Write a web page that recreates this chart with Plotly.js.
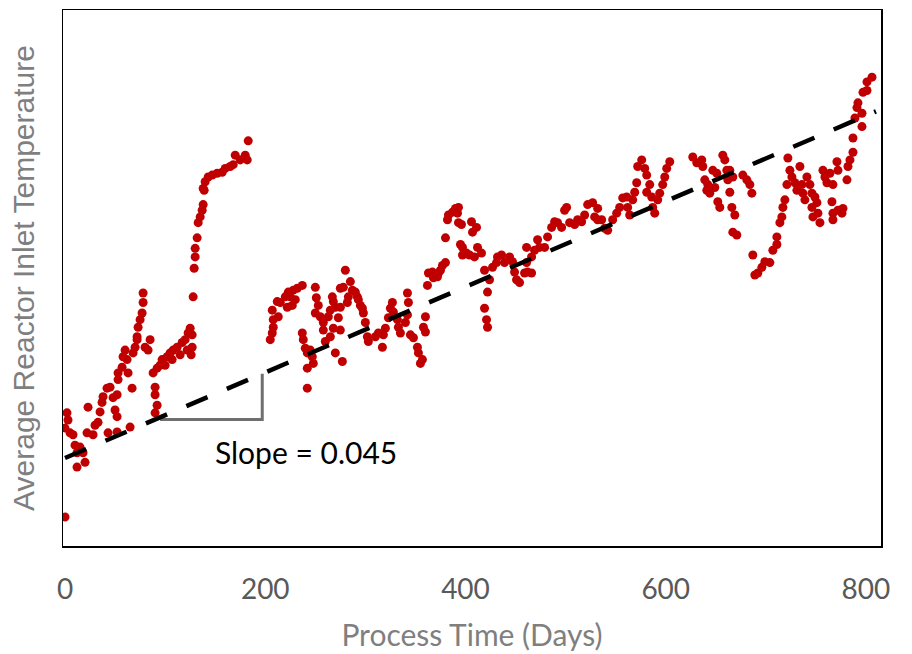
<!DOCTYPE html>
<html>
<head>
<meta charset="utf-8">
<script src="https://cdn.plot.ly/plotly-3.0.1.min.js"></script>
<style>html,body{margin:0;padding:0;background:#fff;}#chart{width:912px;height:654px;}</style>
</head>
<body>
<div id="chart"></div>
<script>
// Process time (days)
const days = [
0,2,3,0,5,8,10,15,12,18,12,20,22,23,28,30,33,35,37,38,42,45,48,50,52,52,53,53,57,58,60,62,63,67,68,70,72,73,75,77,78,78,80,83,85,72,43,65,52,
88,90,90,92,90,92,95,97,100,102,105,107,108,112,115,117,120,123,125,122,127,127,126,128,129,130,130,132,133,135,137,138,139,138,140,143,147,152,157,160,165,168,170,175,180,182,183,
205,207,208,208,207,213,215,220,223,225,228,232,237,230,227,222,212,237,238,240,242,245,247,248,242,242,250,251,253,250,255,258,258,260,265,
280,275,278,285,287,290,292,293,295,297,298,267,268,270,265,263,273,275,282,283,268,275,270,277,300,302,303,310,313,317,318,320,323,325,327,328,332,333,335,340,342,343,342,345,348,352,353,355,357,360,358,360,362,363,367,368,372,373,375,377,380,380,382,383,387,390,393,392,393,395,397,
396,397,401,406,411,407,412,416,409,404,419,424,422,419,421,422,427,431,432,436,439,444,447,449,451,454,459,462,466,461,466,461,469,472,474,479,482,486,489,492,496,499,501,504,509,512,516,519,522,527,529,532,
532,536,539,542,547,551,554,557,561,562,564,567,569,571,572,576,579,581,581,584,586,587,589,592,594,597,599,601,604,627,631,636,637,639,642,641,644,647,651,649,652,654,657,659,661,662,664,666,667,
664,667,669,671,677,681,684,686,687,689,692,696,699,704,707,711,711,714,716,717,719,721,722,724,726,729,731,734,736,737,739,741,744,746,749,751,752,754,747,746,757,759,761,764,767,771,772,766,767,767,772,776,777,781,782,784,787,787,789,791,792,796,796,797,801,806,801
];
// Average reactor inlet temperature (relative units)
const temps = [
3.05,14.0,13.25,12.4,11.9,11.7,10.6,10.4,9.8,9.8,8.3,8.8,11.9,14.6,11.7,12.7,13.0,14.1,15.1,15.7,16.6,16.7,15.6,14.3,13.6,15.9,17.5,18.2,18.8,19.9,20.6,19.6,18.2,16.6,20.3,20.9,22.0,23.0,23.8,24.5,25.6,26.6,20.9,20.6,21.7,21.7,11.9,12.5,12.0,
18.2,16.7,15.9,14.8,14.0,18.7,19.0,19.6,19.0,19.9,20.3,19.6,20.6,20.9,20.1,21.4,21.7,22.4,22.9,20.6,22.2,20.9,20.1,26.2,29.2,30.4,31.3,32.4,34.0,34.6,35.3,35.9,37.4,37.6,38.3,38.8,39.0,39.2,39.3,39.7,39.9,40.1,41.1,40.6,41.1,40.6,42.6,
21.7,22.4,23.0,23.8,24.8,24.1,25.6,26.2,26.7,26.2,26.9,27.1,27.4,25.9,25.3,25.1,25.7,22.4,21.7,20.8,20.3,20.6,19.9,19.2,18.7,16.6,27.2,26.1,25.3,24.5,24.1,23.5,22.7,21.5,22.0,
29.0,27.1,27.2,27.8,26.9,26.7,26.2,25.9,25.3,25.0,24.5,26.2,25.7,25.1,24.8,24.1,24.0,25.1,25.6,26.2,22.9,22.7,20.3,19.4,23.5,22.0,21.5,22.0,22.4,20.9,22.2,22.9,24.0,25.0,25.6,24.6,23.8,23.0,22.4,23.5,24.3,25.6,26.6,22.2,21.9,20.9,20.3,19.2,19.6,24.1,23.0,22.5,27.4,28.7,28.8,28.2,28.3,28.7,29.0,29.5,29.8,32.4,34.3,34.8,35.1,35.5,35.6,35.0,34.0,31.7,30.6,
33.8,31.4,30.8,34.1,33.5,33.0,31.4,30.8,30.4,30.6,29.0,28.0,26.7,25.0,23.8,23.0,29.3,29.8,30.4,30.6,29.8,30.4,29.9,28.8,28.0,27.7,28.7,28.8,28.7,29.8,30.4,31.4,31.1,32.2,31.4,31.4,32.5,33.5,34.1,34.0,33.5,35.3,35.6,34.0,33.8,34.3,34.1,34.8,35.9,36.1,34.6,34.3,
35.5,34.3,33.4,33.2,34.3,35.0,35.6,36.6,36.7,35.6,34.8,36.4,37.2,38.2,39.9,40.6,39.7,39.0,37.2,38.0,36.7,35.6,35.0,36.4,37.1,38.0,38.8,39.7,40.4,40.9,40.3,40.6,39.9,38.5,38.0,37.4,37.1,39.5,39.2,37.7,36.2,35.6,41.1,40.6,39.5,38.5,37.2,35.6,33.0,
39.5,38.8,34.8,32.7,39.0,38.5,38.0,37.1,30.6,28.5,28.7,29.3,29.9,29.8,31.1,31.7,32.5,34.0,34.6,35.6,36.4,38.0,40.8,39.5,38.8,38.2,37.4,39.9,38.0,37.1,36.4,38.8,38.0,37.1,36.7,36.1,35.0,34.0,34.6,35.6,39.5,38.8,38.2,39.2,38.0,40.4,39.5,36.2,35.0,34.3,35.3,35.0,35.5,38.5,39.9,40.6,41.4,42.9,45.0,46.1,46.6,45.5,44.1,47.7,48.8,49.3,47.9
];
// Linear trend (slope 0.045 per day)
const trendDays = [0, 810];
const trendTemps = [9.25, 45.7];
// Slope triangle
const triDays = [95, 197, 197];
const triTemps = [13.3, 13.3, 18.1];
const tickVals = [0, 200, 400, 600, 800];
const tickText = ['0', '200', '400', '600', '800'];
const slopeLabel = 'Slope = 0.045';

const traces = [
  {x: days, y: temps, type: 'scatter', mode: 'markers',
   marker: {color: '#C00000', size: 9}, hoverinfo: 'skip', showlegend: false},
  {x: triDays, y: triTemps, type: 'scatter', mode: 'lines',
   line: {color: '#6f6f6f', width: 3}, hoverinfo: 'skip', showlegend: false},
  {x: trendDays, y: trendTemps, type: 'scatter', mode: 'lines',
   line: {color: '#000000', width: 4.5, dash: '23px,21px'}, hoverinfo: 'skip', showlegend: false}
];

const layout = {
  width: 912, height: 654,
  margin: {l: 63, r: 31, t: 10, b: 108},
  paper_bgcolor: '#ffffff', plot_bgcolor: '#ffffff',
  showlegend: false,
  xaxis: {
    range: [-2, 815], showgrid: false, zeroline: false,
    showline: true, mirror: true, linecolor: '#000000', linewidth: 1.5,
    tickvals: tickVals, ticktext: tickText, ticks: '',
    ticklabelstandoff: 18,
    tickfont: {family: 'Lato, sans-serif', size: 28, color: '#595959'},
    title: {text: 'Process Time (Days)', standoff: 21,
            font: {family: 'Lato, sans-serif', size: 30, color: '#7f7f7f'}}
  },
  yaxis: {
    range: [0, 56.36], showgrid: false, zeroline: false,
    showline: true, mirror: true, linecolor: '#000000', linewidth: 1.5,
    showticklabels: false, ticks: '',
    title: {text: 'Average Reactor Inlet Temperature', standoff: 18,
            font: {family: 'Liberation Sans, Arial, sans-serif', size: 30, color: '#7f7f7f'}}
  },
  annotations: [{
    x: 148, y: 9.9, xref: 'x', yref: 'y', text: slopeLabel, showarrow: false,
    xanchor: 'left', yanchor: 'middle',
    font: {family: 'Lato, sans-serif', size: 30, color: '#000000'}
  }]
};

Plotly.newPlot('chart', traces, layout, {displayModeBar: false, staticPlot: true});
</script>
</body>
</html>
